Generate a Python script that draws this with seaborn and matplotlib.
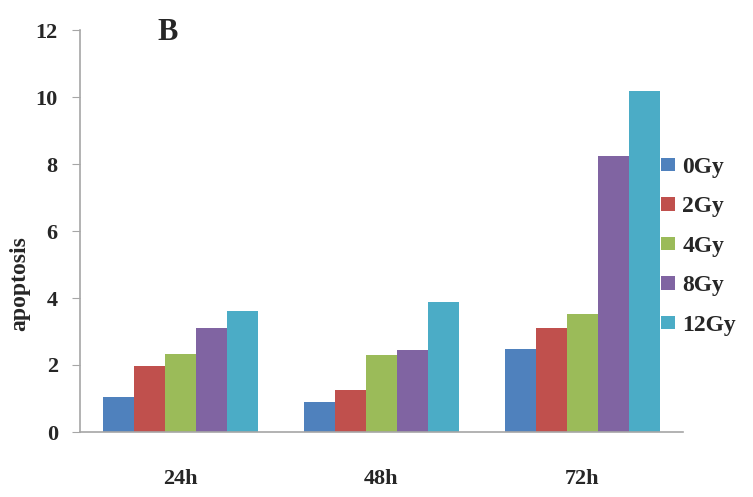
import matplotlib
matplotlib.use("Agg")
import matplotlib.pyplot as plt
import pandas as pd
import seaborn as sns

# data
times = ["24h", "48h", "72h"]
doses = ["0Gy", "2Gy", "4Gy", "8Gy", "12Gy"]
apop_0gy = [1.04, 0.89, 2.47]
apop_2gy = [1.98, 1.24, 3.10]
apop_4gy = [2.33, 2.30, 3.52]
apop_8gy = [3.10, 2.45, 8.23]
apop_12gy = [3.62, 3.87, 10.18]
colors = ["#4F81BD", "#C0504D", "#9BBB59", "#8064A2", "#4BACC6"]

series = [apop_0gy, apop_2gy, apop_4gy, apop_8gy, apop_12gy]
rows = []
for dose, vals in zip(doses, series):
    for t, v in zip(times, vals):
        rows.append({"time": t, "dose": dose, "apoptosis": v})
df = pd.DataFrame(rows)

sns.set_style("white")
plt.rcParams["font.family"] = ["Liberation Serif", "DejaVu Serif"]
plt.rcParams["font.weight"] = "bold"

fig = plt.figure(figsize=(7.53, 4.97), dpi=100)
ax = fig.add_axes([80 / 753, 1 - 432 / 497, (683 - 80) / 753, (432 - 30) / 497])

sns.barplot(
    data=df, x="time", y="apoptosis", hue="dose",
    order=times, hue_order=doses, palette=colors,
    width=0.77, gap=0, saturation=1, edgecolor="none", ax=ax,
)

# axes styling
ax.set_ylim(0, 12)
ax.set_xlim(-0.5, 2.5)
ax.set_yticks(range(0, 13, 2))
ax.set_yticklabels([str(v) for v in range(0, 13, 2)], fontsize=16, fontweight="bold")
ax.set_xticklabels(times, fontsize=16, fontweight="bold")
ax.set_xticks([-0.5, 0.5, 1.5, 2.5], minor=True)
ax.tick_params(axis="x", which="major", length=0, pad=27)
ax.tick_params(axis="x", which="minor", length=6, color="#A6A6A6", direction="out")
ax.tick_params(axis="y", length=6, color="#A6A6A6", direction="out", pad=10, left=True)

for side in ["top", "right"]:
    ax.spines[side].set_visible(False)
for side in ["left", "bottom"]:
    ax.spines[side].set_color("#A6A6A6")
    ax.spines[side].set_linewidth(1.2)

ax.set_xlabel("")
ax.set_ylabel("apoptosis", fontsize=17, fontweight="bold")
ax.yaxis.set_label_coords(-0.083, 0.37)

# legend on the right
handles, labels = ax.get_legend_handles_labels()
ax.legend(
    handles, labels, loc="upper left", bbox_to_anchor=(661 / 753, 1 - 157 / 497),
    bbox_transform=fig.transFigure, frameon=False, prop={"size": 17, "weight": "bold"},
    handlelength=0.6, handleheight=0.5, handletextpad=0.3, labelspacing=0.78,
    borderaxespad=0, borderpad=0,
)

fig.text(168 / 753, 1 - 32 / 497, "B", fontsize=22, fontweight="bold", ha="center", va="center")

fig.savefig("out.png", dpi=100)
